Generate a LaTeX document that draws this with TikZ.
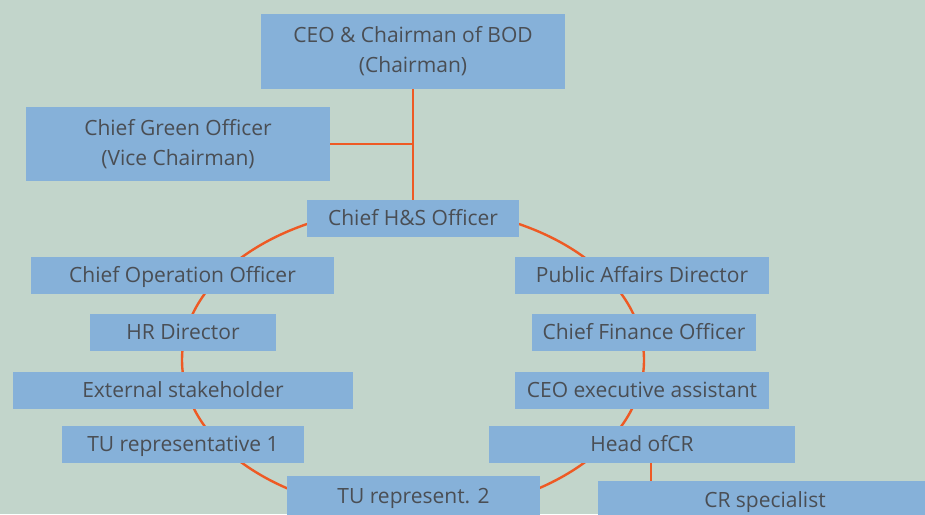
\documentclass[tikz,border=0pt]{standalone}
\usepackage{fontspec}
\setmainfont{Open Sans}
\usetikzlibrary{backgrounds,positioning}
\definecolor{bgcol}{HTML}{C2D5CB}
\definecolor{boxcol}{HTML}{86B1D9}
\definecolor{txtcol}{HTML}{4A4E54}
\definecolor{linecol}{HTML}{EE5A24}

\begin{document}
\begin{tikzpicture}[x=1pt,y=-1pt,
        post/.style={fill=boxcol,text=txtcol,inner sep=0pt,minimum height=37pt,align=center,%
                     font=\fontsize{21}{30}\selectfont},% one box of the chart
        one/.style={post,text height=15pt,text depth=1pt},% box with one line of text
        link/.style={draw=linecol,line width=2.4pt}]
\fill[bgcol] (0,0) rectangle (925,514);
\useasboundingbox (0,0) rectangle (925,514);
\coordinate (mid) at (413,360); % centre of the ring
\draw[link] (mid) ellipse [x radius=231pt, y radius=153pt];

% top of the chart
\node[post,minimum width=304pt,minimum height=75pt] (ceo) at (413,51.5) {CEO \& Chairman of BOD\\(Chairman)};
\node[post,minimum width=304pt,minimum height=74pt] (cgo) at (178,144) {Chief Green Officer\\(Vice Chairman)};
\node[one,minimum width=212pt] (hs) at (413,218.5) {Chief H\&S Officer};

% left half of the ring
\node[one,minimum width=303pt] (coo) at (182.5,275) {Chief Operation Officer};
\node[one,minimum width=186pt] (hr) at (183,332.5) {HR Director};
\node[one,minimum width=340pt] (ext) at (183,390) {External stakeholder};
\node[one,minimum width=242pt] (tu1) at (183,444.5) {TU representative 1};
\node[one,minimum width=253pt,minimum height=40pt] (tu2) at (413.5,496) {TU represent. 2};

% right half of the ring
\node[one,minimum width=254pt] (pad) at (642,275.5) {Public Affairs Director};
\node[one,minimum width=224pt] (cfo) at (644,332.5) {Chief Finance Officer};
\node[one,minimum width=254pt] (cea) at (642,390.5) {CEO executive assistant};
\node[one,minimum width=306pt] (hcr) at (642,444.5) {Head ofCR};
\node[one,minimum width=334pt,minimum height=38pt] (crs) at (765,500) {CR specialist};

\draw[link] (ceo) -- (hs);
\draw[link] (cgo.east) -- (cgo.east -| ceo.south);
\draw[link] ([xshift=9pt]hcr.south) -- ([xshift=9pt]hcr.south |- crs.north);
\end{tikzpicture}
\end{document}
